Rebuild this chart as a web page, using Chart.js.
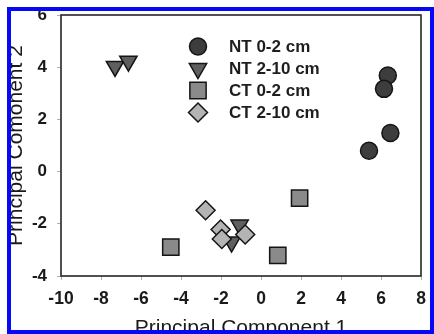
<!DOCTYPE html>
<html>
<head>
<meta charset="utf-8">
<script src="https://cdn.jsdelivr.net/npm/chart.js@4.4.0/dist/chart.umd.min.js"></script>
<style>
    html, body { margin: 0; padding: 0; background: #fff; }
    #wrap { position: relative; width: 434px; height: 334px; overflow: hidden; }
    #chart { display: block; }
    #frame {
        position: absolute; left: 7px; top: 7px; width: 427px; height: 327px;
        box-sizing: border-box; border: 4px solid #0808f8; pointer-events: none;
    }
</style>
</head>
<body>
<div id="wrap">
    <canvas id="chart" width="434" height="334"></canvas>
    <div id="frame"></div>
</div>
<script>
// Data (PC1, PC2 scores)
const seriesLabels = ['NT 0-2 cm', 'NT 2-10 cm', 'CT 0-2 cm', 'CT 2-10 cm'];
const nt02X = [6.34, 6.15, 6.47, 5.40];
const nt02Y = [3.68, 3.17, 1.48, 0.80];
const nt210X = [-7.30, -6.63, -1.07, -1.47];
const nt210Y = [4.03, 4.23, -2.05, -2.70];
const ct02X = [-4.51, 1.93, 0.84];
const ct02Y = [-2.89, -1.02, -3.21];
const ct210X = [-2.77, -2.02, -1.96, -0.79];
const ct210Y = [-1.48, -2.22, -2.58, -2.41];
const xTickValues = [-10, -8, -6, -4, -2, 0, 2, 4, 6, 8];
const yTickValues = [-4, -2, 0, 2, 4, 6];

const toPoints = (xs, ys) => xs.map((x, i) => ({ x, y: ys[i] }));

const FONT = "'Liberation Sans', Arial, sans-serif";

// legend drawn inside the plot
const insideLegend = {
    id: 'insideLegend',
    afterDatasetsDraw(chart) {
        const ctx = chart.ctx;
        ctx.save();
        chart.data.datasets.forEach((ds, i) => {
            const y = 46.5 + i * 22;
            ctx.fillStyle = ds.backgroundColor;
            ctx.strokeStyle = ds.borderColor;
            ctx.lineWidth = ds.borderWidth;
            Chart.helpers.drawPoint(ctx, {
                pointStyle: ds.pointStyle,
                radius: ds.pointRadius,
                rotation: ds.pointRotation || 0,
                borderWidth: ds.borderWidth
            }, 198, y);
            ctx.fillStyle = '#1e1e1e';
            ctx.font = `bold 17px ${FONT}`;
            ctx.textBaseline = 'middle';
            ctx.textAlign = 'left';
            ctx.fillText(ds.label, 229, y + 1);
        });
        ctx.restore();
    }
};

// box around plot area
const plotBox = {
    id: 'plotBox',
    beforeDatasetsDraw(chart) {
        const { ctx, chartArea: a } = chart;
        ctx.save();
        ctx.strokeStyle = '#262626';
        ctx.lineWidth = 1.6;
        ctx.strokeRect(a.left, a.top, a.right - a.left, a.bottom - a.top);
        ctx.restore();
    }
};

const common = { borderColor: '#151515', borderWidth: 1.5, showLine: false, pointHoverRadius: 0 };

new Chart(document.getElementById('chart'), {
    type: 'scatter',
    data: {
        datasets: [
            { ...common, label: seriesLabels[0], data: toPoints(nt02X, nt02Y), backgroundColor: '#3d3d3d', pointStyle: 'circle', pointRadius: 8.5, order: 3 },
            { ...common, label: seriesLabels[1], data: toPoints(nt210X, nt210Y), backgroundColor: '#5f5f5f', pointStyle: 'triangle', pointRadius: 10, pointRotation: 180, order: 2 },
            { ...common, label: seriesLabels[2], data: toPoints(ct02X, ct02Y), backgroundColor: '#8a8a8a', pointStyle: 'rect', pointRadius: 11.5, order: 1 },
            { ...common, label: seriesLabels[3], data: toPoints(ct210X, ct210Y), backgroundColor: '#b4b4b4', pointStyle: 'rectRot', pointRadius: 9.5, order: 0 }
        ]
    },
    options: {
        responsive: false,
        animation: false,
        events: [],
        layout: { padding: { top: 15, right: 3, left: 0, bottom: 0 } },
        plugins: { legend: { display: false }, tooltip: { enabled: false } },
        scales: {
            x: {
                type: 'linear',
                min: -10, max: 8,
                afterBuildTicks: s => { s.ticks = xTickValues.map(v => ({ value: v })); },
                afterFit: s => { s.height = 58; s.paddingLeft = 0; s.paddingRight = 0; },
                border: { display: false },
                grid: { drawOnChartArea: false, drawTicks: true, tickLength: 4, color: '#b0b0b0' },
                ticks: { color: '#1a1a1a', padding: 9, font: { family: FONT, size: 17.5, weight: 'bold' } },
                title: {
                    display: true, text: 'Principal Component 1', color: '#1a1a1a',
                    padding: { top: 0, bottom: 0.3 },
                    font: { family: FONT, size: 21, lineHeight: 0.5 }
                }
            },
            y: {
                type: 'linear',
                min: -4, max: 6,
                afterBuildTicks: s => { s.ticks = yTickValues.map(v => ({ value: v })); },
                afterFit: s => { s.width = 61; s.paddingTop = 0; s.paddingBottom = 0; },
                border: { display: false },
                grid: { drawOnChartArea: false, drawTicks: true, tickLength: 4, color: '#b0b0b0' },
                ticks: { color: '#1a1a1a', padding: 10, font: { family: FONT, size: 17, weight: 'bold' } },
                title: {
                    display: true, text: 'Principal Comonent 2', color: '#1a1a1a',
                    padding: { top: 6, bottom: 0 },
                    font: { family: FONT, size: 21, lineHeight: 1 }
                }
            }
        }
    },
    plugins: [plotBox, insideLegend]
});
</script>
</body>
</html>
